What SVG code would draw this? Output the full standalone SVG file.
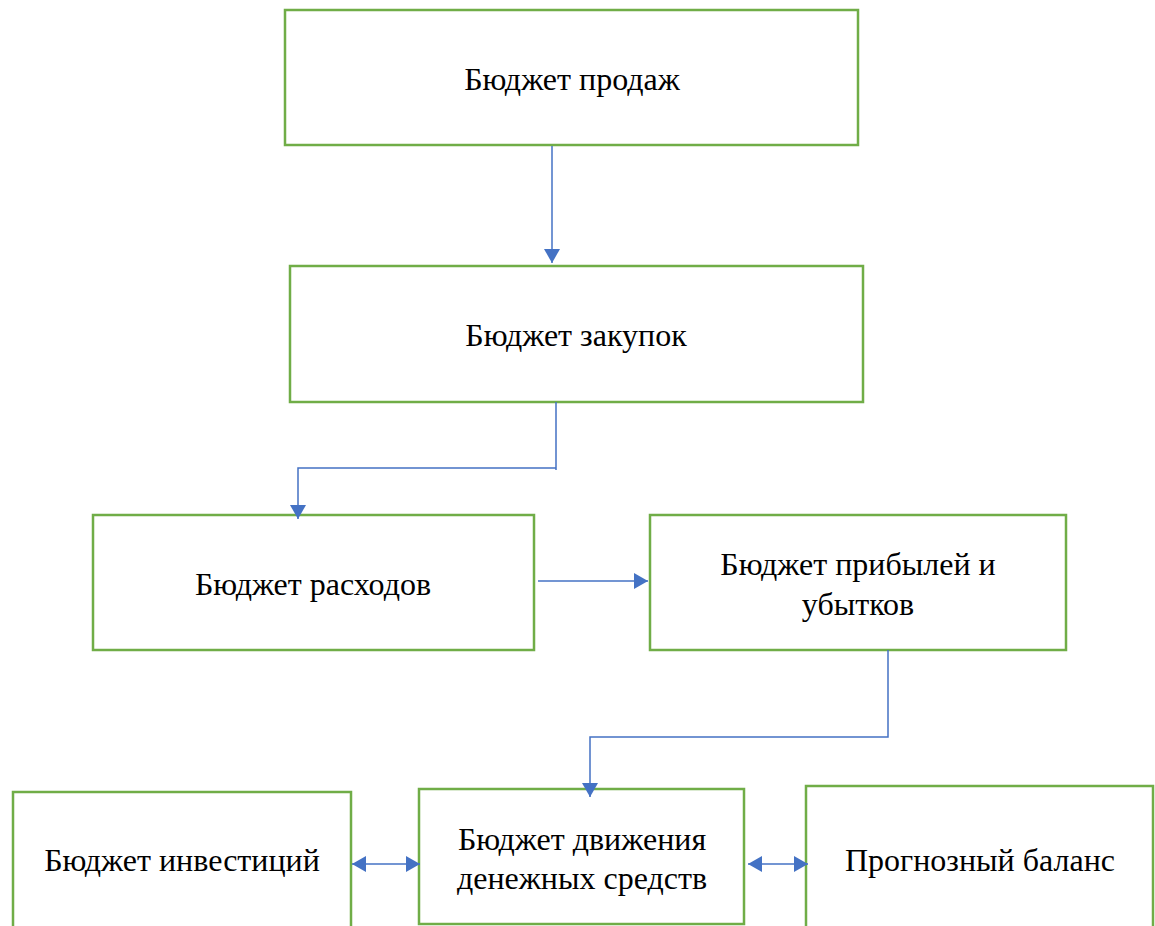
<svg xmlns="http://www.w3.org/2000/svg" width="1155" height="926" viewBox="0 0 1155 926">
<style>
.box{fill:#fff;stroke:#70AD47;stroke-width:2.5}
.lbl{font-family:"Liberation Serif","Times New Roman",serif;font-size:32px;fill:#000;text-anchor:middle}
.con{fill:none;stroke:#4472C4;stroke-width:1.5}
</style>
<defs>
<marker id="ah" viewBox="0 0 14 16" refX="14" refY="8" markerWidth="14" markerHeight="16" markerUnits="userSpaceOnUse" orient="auto-start-reverse">
<path d="M0,0 L14,8 L0,16 Z" fill="#4472C4"/>
</marker>
</defs>
<rect width="1155" height="926" fill="#fff"/>
<g id="n1"><rect class="box" x="285" y="10" width="573" height="135"/><text class="lbl" x="572" y="90">Бюджет продаж</text></g>
<g id="n2"><rect class="box" x="290" y="266" width="573" height="136"/><text class="lbl" x="576" y="346">Бюджет закупок</text></g>
<g id="n3"><rect class="box" x="93" y="515" width="441" height="135"/><text class="lbl" x="313" y="595">Бюджет расходов</text></g>
<g id="n4"><rect class="box" x="650" y="515" width="416" height="135"/><text class="lbl" x="858" y="575">Бюджет прибылей и</text><text class="lbl" x="858" y="615">убытков</text></g>
<g id="n5"><rect class="box" x="13" y="792" width="338" height="140"/><text class="lbl" x="182" y="871">Бюджет инвестиций</text></g>
<g id="n6"><rect class="box" x="419" y="789" width="325" height="135"/><text class="lbl" x="582" y="850">Бюджет движения</text><text class="lbl" x="582" y="889">денежных средств</text></g>
<g id="n7"><rect class="box" x="806" y="786" width="347" height="146"/><text class="lbl" x="980" y="871">Прогнозный баланс</text></g>
<g id="connectors">
<path class="con" d="M552,146 V263" marker-end="url(#ah)"/>
<path class="con" d="M556,402 V470 M556,468 H298 V519" marker-end="url(#ah)"/>
<path class="con" d="M538,581 H648" marker-end="url(#ah)"/>
<path class="con" d="M888,650 V737 H590 V797" marker-end="url(#ah)"/>
<path class="con" d="M352,864 H420" marker-start="url(#ah)" marker-end="url(#ah)"/>
<path class="con" d="M748,864 H808" marker-start="url(#ah)" marker-end="url(#ah)"/>
</g>
</svg>
